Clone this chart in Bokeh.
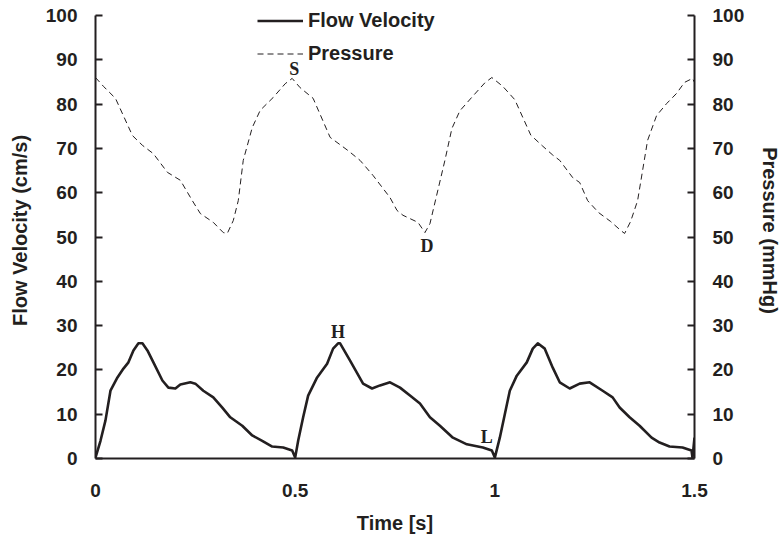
import numpy as np
from bokeh.plotting import figure
from bokeh.models import (Range1d, LinearAxis, FixedTicker, Legend, LegendItem,
                          ColumnDataSource)
from bokeh.core.properties import value
from bokeh.embed import file_html
from bokeh.resources import INLINE

# ---------------- data ----------------
flow_t = [0, 0.0125, 0.025, 0.0375, 0.055, 0.07, 0.0825, 0.095, 0.1075, 0.1175, 0.13,
          0.145, 0.1675, 0.1825, 0.2, 0.2125, 0.2375, 0.25, 0.27, 0.295, 0.3175, 0.3375,
          0.3675, 0.3925, 0.4175, 0.4425, 0.47, 0.4925, 0.5,
          0.5075, 0.52, 0.5325, 0.555, 0.58, 0.595, 0.6075, 0.6125, 0.6375, 0.67, 0.6925,
          0.7125, 0.7375, 0.7625, 0.7875, 0.8125, 0.8375, 0.8625, 0.895, 0.93, 0.97,
          0.9925, 1.0,
          1.0125, 1.025, 1.0375, 1.055, 1.08, 1.095, 1.1075, 1.125, 1.145, 1.1625, 1.1875,
          1.2125, 1.2375, 1.27, 1.295, 1.3125, 1.3375, 1.3625, 1.3925, 1.4125, 1.4375,
          1.47, 1.4925, 1.495, 1.5]
flow_v = [0.2, 4, 8.6, 15.3, 18.3, 20.3, 21.7, 24.4, 26, 26, 24.4,
          21.7, 17.6, 16, 15.8, 16.7, 17.2, 16.9, 15.3, 13.8, 11.5, 9.3,
          7.4, 5.2, 4, 2.7, 2.5, 1.8, 0.2,
          4, 9.3, 14.2, 18.3, 21.4, 24.8, 26, 26, 22.1, 16.9, 15.8,
          16.5, 17.2, 16.0, 14.2, 12.4, 9.3, 7.4, 4.7, 3.2, 2.5,
          1.8, 0.2,
          4.7, 10, 15.3, 18.7, 21.7, 24.8, 26, 24.8, 20.5, 17.2, 15.8,
          16.9, 17.2, 15.3, 13.8, 11.5, 9.3, 7.4, 4.7, 3.6, 2.7,
          2.5, 1.8, 0.2, 4.7]

pres_t = [0, 0.02, 0.05, 0.0925, 0.1175, 0.145, 0.18, 0.2125, 0.2425, 0.2625, 0.295,
          0.32, 0.33, 0.345, 0.3575, 0.37, 0.3925, 0.4125, 0.445, 0.475, 0.4925,
          0.5125, 0.545, 0.5875, 0.6325, 0.6625, 0.695, 0.7375, 0.755, 0.77, 0.8075,
          0.825, 0.8375, 0.875, 0.8925, 0.9125, 0.945, 0.975, 0.9925,
          1.02, 1.05, 1.09, 1.12, 1.145, 1.1625, 1.195, 1.2125, 1.2325, 1.26, 1.29,
          1.315, 1.325, 1.34, 1.3575, 1.3825, 1.405, 1.43, 1.455, 1.475, 1.495, 1.5]
pres_v = [86, 84, 81.3, 72.9, 70.7, 68.8, 64.6, 62.8, 58.2, 55.3, 53.3,
          51, 50.8, 53.7, 58.2, 67.3, 74.7, 78.6, 81.5, 84.6, 85.8,
          83.7, 81.3, 72.5, 69.5, 67.3, 63.9, 58.9, 56, 54.9, 53.3,
          51, 53, 67.3, 74.5, 78.5, 81.8, 84.8, 86,
          84, 81, 73, 70.5, 68.5, 67.3, 63.4, 62.3, 58.2, 55.5, 53.5,
          51.5, 50.8, 53.5, 58.2, 71.8, 77.4, 80.1, 82.4, 84.9, 85.8, 84.9]

x_tick_vals = [0, 0.5, 1, 1.5]
x_tick_labels = ["0", "0.5", "1", "1.5"]
y_tick_vals = [0, 10, 20, 30, 40, 50, 60, 70, 80, 90, 100]

# ---------------- layout ----------------
W, H = 784, 540
BORDER_TOP, BORDER_BOTTOM = 2, 82
AXIS_TOP_PX = 13          # axis (value 100) sits this far below the frame top
frame_h = H - BORDER_TOP - BORDER_BOTTOM
y_end = 100 * frame_h / (frame_h - AXIS_TOP_PX)

INK = "#231f20"
FONT = "Liberation Sans"

p = figure(width=W, height=H, output_backend="svg", toolbar_location=None,
           x_range=Range1d(0, 1.5), y_range=Range1d(0, y_end),
           min_border_left=95, min_border_right=86, min_border_top=BORDER_TOP,
           min_border_bottom=BORDER_BOTTOM, x_axis_label="Time [s]",
           y_axis_label="Flow Velocity (cm/s)")
p.extra_y_ranges = {"pressure": Range1d(0, y_end)}
p.outline_line_color = None
p.grid.visible = False
p.background_fill_color = "white"
p.border_fill_color = "white"

rax = LinearAxis(y_range_name="pressure", axis_label="Pressure (mmHg)")
p.add_layout(rax, "right")

for ax in [p.xaxis[0], p.yaxis[0], rax]:
    ax.axis_line_color = INK
    ax.axis_line_width = 2
    ax.major_tick_line_color = INK
    ax.major_tick_line_width = 2
    ax.minor_tick_line_color = None
    ax.major_label_text_font = FONT
    ax.major_label_text_font_style = "bold"
    ax.major_label_text_font_size = "19px"
    ax.major_label_text_color = INK
    ax.axis_label_text_font = FONT
    ax.axis_label_text_font_style = "bold"
    ax.axis_label_text_font_size = "20px"
    ax.axis_label_text_color = INK

p.xaxis[0].ticker = FixedTicker(ticks=x_tick_vals)
p.xaxis[0].major_label_overrides = {v: l for v, l in zip(x_tick_vals, x_tick_labels)}
p.xaxis[0].major_tick_in = 0
p.xaxis[0].major_tick_out = 0
p.xaxis[0].major_label_standoff = 25
p.xaxis[0].axis_label_standoff = 12

for ax in [p.yaxis[0], rax]:
    ax.ticker = FixedTicker(ticks=y_tick_vals)
    ax.bounds = (0, 100)
    ax.major_tick_in = 7
    ax.major_tick_out = 0
    ax.major_label_standoff = 18
p.yaxis[0].axis_label_standoff = 12
rax.axis_label_standoff = 12

src_f = ColumnDataSource(dict(t=flow_t, v=flow_v))
src_p = ColumnDataSource(dict(t=pres_t, v=pres_v))
lf = p.line("t", "v", source=src_f, line_color=INK, line_width=2.6, line_join="round")
lp = p.line("t", "v", source=src_p, line_color=INK, line_width=1, line_dash="6 4",
            y_range_name="pressure")

legend = Legend(items=[LegendItem(label="Flow Velocity", renderers=[lf]),
                       LegendItem(label="Pressure", renderers=[lp])],
                location=(162, 393), orientation="vertical")
legend.label_text_font = FONT
legend.label_text_font_style = "bold"
legend.label_text_font_size = "20px"
legend.label_text_color = INK
legend.glyph_width = 46
legend.glyph_height = 23
legend.label_height = 23
legend.label_standoff = 5
legend.spacing = 10
legend.padding = 0
legend.margin = 0
legend.border_line_alpha = 0
legend.background_fill_alpha = 0
p.add_layout(legend)

# ---------------- point labels S, H, D, L ----------------
ft = np.array(flow_t); fv = np.array(flow_v)
pt = np.array(pres_t); pv = np.array(pres_v)

def pick(tt, vv, lo, hi, fn):
    m = (tt >= lo) & (tt <= hi)
    idx = np.where(m)[0]
    j = idx[fn(vv[idx])]
    return float(tt[j]), float(vv[j])

sx, sy = pick(pt, pv, 0.4, 0.6, np.argmax)
dx, dy = pick(pt, pv, 0.7, 0.9, np.argmin)
hx, hy = pick(ft, fv, 0.5, 0.7, np.argmax)
lx, ly = pick(ft, fv, 0.95, 1.05, np.argmin)

common = dict(text_font=value("Liberation Serif"), text_font_style="bold",
              text_font_size="18px", text_color=INK, text_align="center",
              text_baseline="middle")
p.text(x=[sx], y=[sy], text=["S"], x_offset=2, y_offset=-9,
       y_range_name="pressure", **common)
p.text(x=[dx], y=[dy], text=["D"], x_offset=2, y_offset=13,
       y_range_name="pressure", **common)
p.text(x=[hx], y=[hy], text=["H"], x_offset=0, y_offset=-11, **common)
p.text(x=[lx], y=[ly], text=["L"], x_offset=-8, y_offset=-21, **common)

open("out.html", "w").write(file_html(p, INLINE))
